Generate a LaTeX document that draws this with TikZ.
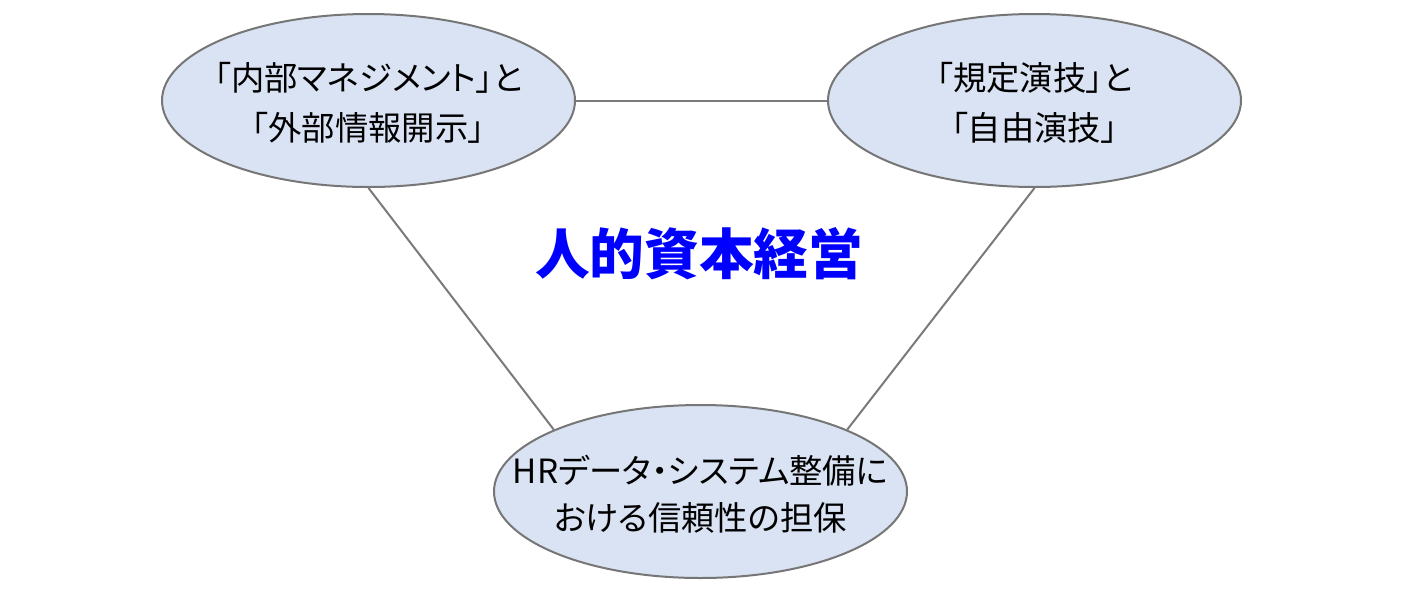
\documentclass[tikz,border=0pt]{standalone}
\usepackage{fontspec}
\newfontfamily\cjk[RawFeature=+palt]{Noto Sans CJK JP}
\usetikzlibrary{shapes.geometric}
\definecolor{ovalfill}{HTML}{DAE3F3}
\definecolor{ovalline}{HTML}{767676}
\definecolor{connline}{HTML}{7A7A7A}
\definecolor{titleblue}{HTML}{0000FF}
\tikzset{
  oval/.style={ellipse, draw=ovalline, line width=1.5pt, fill=ovalfill,
    minimum width=309.75pt, minimum height=129.75pt, inner sep=0pt},
  ovaltext/.style={align=center, text=black, inner sep=0pt},
  toptext/.style={ovaltext, font=\cjk\fontsize{25}{37.5}\selectfont},
  bottext/.style={ovaltext, font=\cjk\fontsize{25}{35.5}\selectfont},
  conn/.style={draw=connline, line width=1.5pt},
  title/.style={font=\cjk\bfseries\fontsize{41}{48}\selectfont, text=titleblue, inner sep=0pt}
}
\begin{document}
\begin{tikzpicture}[x=0.75pt, y=-0.75pt]
\useasboundingbox (0,0) rectangle (1414,590);
\node[oval] (L) at (368.5,100.5) {};
\node[oval] (R) at (1034.5,100.5) {};
\node[oval] (B) at (700.5,491.5) {};
\node[toptext] (Lt) at (368.5,103) {「内部マネジメント」と\\「外部情報開示」};
\node[toptext] (Rt) at (1034.5,103) {「規定演技」と\\「自由演技」};
\node[bottext] (Bt) at (700.5,494) {HRデータ・システム整備に\\おける信頼性の担保};
\node[title] (T) at (699,254) {人的資本経営};
\draw[conn] (L.east) -- (R.west);
\draw[conn] (L.south) -- (B.north west);
\draw[conn] (R.south) -- (B.north east);
\end{tikzpicture}
\end{document}
